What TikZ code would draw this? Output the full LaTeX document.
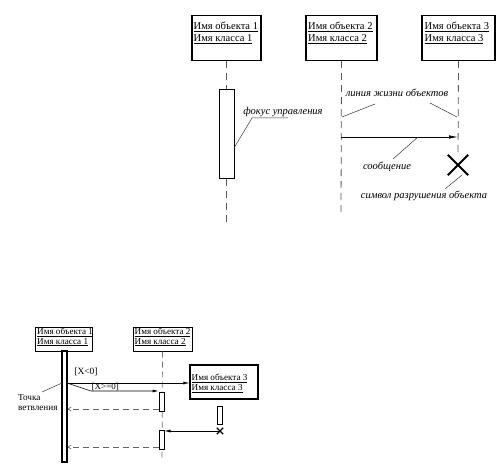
\documentclass[tikz,border=0pt]{standalone}
\usepackage{fontspec}
\setmainfont{Liberation Serif}
\usetikzlibrary{arrows.meta}
\begin{document}
\begin{tikzpicture}[x=1pt,y=-1pt,
  objbox/.style={draw,line width=1.2pt,minimum width=#1,minimum height=45pt,inner sep=0pt},
  objboxs/.style={draw,line width=1pt,inner sep=0pt},
  objtext/.style={anchor=north west,inner sep=0pt,align=left,font=\fontsize{10.5}{12.3}\selectfont},
  objtexts/.style={anchor=north west,inner sep=0pt,align=left,font=\fontsize{9.1}{9.8}\selectfont},
  life/.style={draw=black!65,line width=0.8pt,dash pattern=on 7pt off 5pt},
  lifes/.style={draw=black!55,line width=0.7pt,dash pattern=on 6pt off 4pt},
  act/.style={draw,line width=1pt,fill=white,inner sep=0pt},
  note/.style={font=\itshape\fontsize{10.5}{12}\selectfont,inner sep=1pt},
  lead/.style={draw=black!80,line width=0.5pt},
  msg/.style={draw,line width=0.7pt,-{Latex[length=9pt,width=3.5pt]}},
  msgs/.style={draw,line width=0.6pt,-{Latex[length=6pt,width=3pt]}},
  ret/.style={draw=black!60,line width=0.6pt,dash pattern=on 6pt off 4pt,-{Straight Barb[length=3pt,width=4pt]}},
  xmark/.style={line width=2pt}
]
\useasboundingbox (0,0) rectangle (500,470);

% ---------- top diagram ----------
\node[objbox=69pt] (b1) at (226.5,38) {};
\node[objbox=71pt] (b2) at (341.5,38) {};
\node[objbox=73pt] (b3) at (458.5,38) {};
\node[objtext] (t1) at (193.5,21.5) {\underline{Имя объекта 1}\\\underline{Имя класса 1}};
\node[objtext] (t2) at (308,21.5) {\underline{Имя объекта 2}\\\underline{Имя класса 2}};
\node[objtext] (t3) at (424.5,21.5) {\underline{Имя объекта 3}\\\underline{Имя класса 3}};

\node[act,minimum width=15pt,minimum height=89pt] (a1) at (226.5,134.5) {};
\coordinate (e1) at (226.5,227);
\coordinate (e2) at (341,215);
\draw[life] (b1.south) -- (a1.north);
\draw[life] (a1.south) -- (e1);
\draw[life] (b2.south) -- (e2);

\node[inner sep=0pt,minimum size=20pt] (xd) at (458,165) {};
\draw[life] (b3.south) -- (xd.north);
\draw[xmark] (xd.north west) -- (xd.south east);
\draw[xmark] (xd.north east) -- (xd.south west);

\coordinate (m0) at (341,137);
\coordinate (m1) at (458,137);
\draw[msg] (m0) -- (m1);

\node[note] (lz) at (397,93) {линия жизни объектов};
\coordinate (lz1) at (342,117);
\coordinate (lz2) at (375,104);
\coordinate (lz3) at (430,103);
\coordinate (lz4) at (457,117);
\draw[lead] (lz1) -- (lz2);
\draw[lead] (lz3) -- (lz4);

\node[note] (fu) at (283,112) {фокус управления};
\coordinate (fu1) at (252,118);
\coordinate (fu2) at (288,118);
\coordinate (fu3) at (234,148);
\draw[lead] (fu2) -- (fu1) -- (fu3);

\node[note] (so) at (387,167) {сообщение};
\coordinate (so1) at (418,137);
\coordinate (so2) at (393,159);
\draw[lead] (so1) -- (so2);

\node[note] (sr) at (424,196) {символ разрушения объекта};
\coordinate (sr1) at (445,189);
\coordinate (sr2) at (462,175);
\draw[lead] (sr1) -- (sr2);

% ---------- bottom diagram ----------
\node[objboxs,minimum width=57pt,minimum height=24pt] (A) at (63.5,339) {};
\node[objboxs,minimum width=59pt,minimum height=24pt] (B) at (162.5,339) {};
\node[objboxs,minimum width=68pt,minimum height=34pt,line width=1.3pt] (C) at (224,382) {};
\node[objtexts] (tA) at (37,327.5) {\underline{Имя объекта 1}\\\underline{Имя класса 1}};
\node[objtexts] (tB) at (134.5,327.5) {\underline{Имя объекта 2}\\\underline{Имя класса 2}};
\node[objtexts] (tC) at (191.5,374) {\underline{Имя объекта 3}\\\underline{Имя класса 3}};

\node[act,minimum width=5pt,minimum height=111pt,line width=1.2pt] (aA) at (64.5,406.5) {};
\coordinate (eB) at (162,460);
\draw[lifes] (B.south) -- (eB);
\node[act,minimum width=5pt,minimum height=19pt] (aB1) at (161.5,401.5) {};
\node[act,minimum width=5pt,minimum height=19pt] (aB2) at (161.5,439.5) {};
\node[act,minimum width=4.5pt,minimum height=18pt] (aC) at (220,415) {};
\node[inner sep=0pt,minimum size=6pt] (xC) at (220,431) {};
\draw[line width=1.3pt] (xC.north west) -- (xC.south east) (xC.north east) -- (xC.south west);

\coordinate (bp) at (67,383);
\coordinate (bk) at (91,391);
\draw[msgs] (bp) -- (C.west |- bp);
\node[font=\fontsize{9.5}{10}\selectfont,inner sep=0pt] (lx1) at (86,372) {[X<0]};
\draw[msgs] (bp) -- (bk) -- (aB1.west |- bk);
\node[font=\fontsize{9}{9}\selectfont,inner sep=0.5pt,anchor=south west] (lx2) at (91,391) {[X>=0]};

\draw[ret] (aB1.west |- 0,409) -- (aA.east |- 0,409);
\draw[msgs] (xC.center) -- (aB2.east |- xC.center);
\draw[ret] (aB2.west |- 0,447) -- (aA.east |- 0,447);

\node[font=\fontsize{9.2}{10}\selectfont,inner sep=0pt,anchor=north west,align=left] (tv) at (18,394) {Точка\\ветвления};
\coordinate (tv1) at (42,392);
\coordinate (tv2) at (62,383);
\draw[lead] (tv1) -- (tv2);
\end{tikzpicture}
\end{document}
